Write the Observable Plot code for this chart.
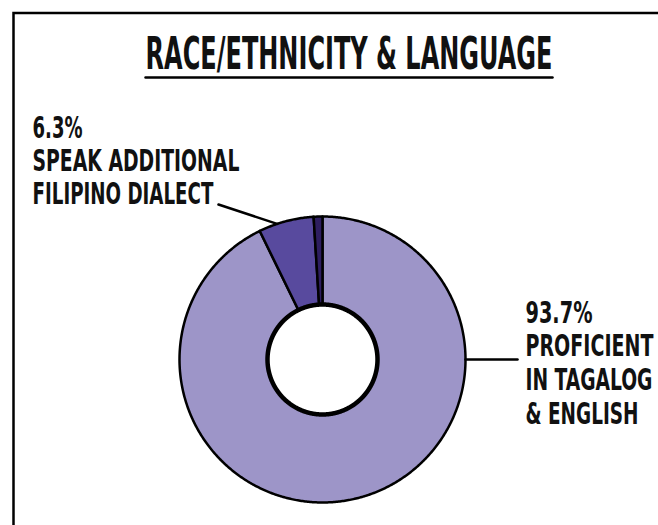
<!DOCTYPE html>
<html><head><meta charset="utf-8">
<script src="https://cdn.jsdelivr.net/npm/d3@7"></script>
<script src="https://cdn.jsdelivr.net/npm/@observablehq/plot@0.6"></script>
<style>body{margin:0;background:#fff;} #chart svg{display:block;}</style>
</head><body><div id="chart"></div>
<script>
// ---- data ----
const title = "RACE/ETHNICITY & LANGUAGE";
const categories = ["Proficient in Tagalog & English", "Speak additional Filipino dialect", "Other"];
const values = [93.7, 6.3, 1.0];
const colors = ["#9d95c8", "#584a9e", "#2e1e60"];
const leftLabel = ["6.3%", "SPEAK ADDITIONAL", "FILIPINO DIALECT"];
const rightLabel = ["93.7%", "PROFICIENT", "IN TAGALOG", "& ENGLISH"];

// ---- layout (pixels, relative to donut centre, y down) ----
const W = 658, H = 525;
const CX = 322, CY = 359, R = 143, R_IN = 55;
const FONT = "'DejaVu Sans Condensed', 'Liberation Sans Narrow', sans-serif";
const layout = {
  title: {x: 26.5, y: -291, size: 44, width: 407, ulY: -282, ulX0: -177, ulX1: 230},
  left: {x: -290, y0: -222, dy: 33, size: 31, widths: [50, 207, 181], lineFrom: [-104, -155], angle: 341.5},
  right: {x: 203, y0: -37, dy: 33.7, size: 31, widths: [67, 128, 127, 113], angle: 90, lineTo: 195}
};

const pie = d3.pie().sort(null).value(d => d.value)(categories.map((c, i) => ({category: c, value: values[i]})));
const pt = (a, r) => [Math.sin(a) * r, -Math.cos(a) * r];
function sector(a0, a1, r0, r1) {
  const n = Math.max(2, Math.ceil((a1 - a0) / (Math.PI / 360)));
  const outer = d3.range(n + 1).map(i => pt(a0 + (a1 - a0) * i / n, r1));
  const inner = d3.range(n + 1).map(i => pt(a1 - (a1 - a0) * i / n, r0));
  return [...outer, ...inner, outer[0]];
}
const slices = pie.map(p => ({
  type: "Feature",
  properties: {category: p.data.category},
  geometry: {type: "Polygon", coordinates: [sector(p.startAngle, p.endAngle, R_IN, R)]}
}));
const hole = {type: "Polygon", coordinates: [d3.range(721).map(i => pt(i * Math.PI / 360, R_IN))]};
const rad = d => d * Math.PI / 180;
const leaders = [
  {type: "LineString", coordinates: [layout.left.lineFrom, pt(rad(layout.left.angle), R)]},
  {type: "LineString", coordinates: [pt(rad(layout.right.angle), R), [layout.right.lineTo, pt(rad(layout.right.angle), R)[1]]]}
];
const underline = {type: "LineString", coordinates: [[layout.title.ulX0, layout.title.ulY], [layout.title.ulX1, layout.title.ulY]]};
const domain = {type: "Polygon", coordinates: [[[-CX, -CY], [W - CX, -CY], [W - CX, H - CY], [-CX, H - CY], [-CX, -CY]]]};

const leftRows = leftLabel.map((t, i) => ({t, x: layout.left.x, y: layout.left.y0 + i * layout.left.dy}));
const rightRows = rightLabel.map((t, i) => ({t, x: layout.right.x, y: layout.right.y0 + i * layout.right.dy}));

const chart = Plot.plot({
  width: W, height: H, margin: 0,
  projection: {type: "identity", domain, inset: 0},
  color: {domain: categories, range: colors},
  marks: [
    Plot.frame({insetLeft: 13, insetTop: 12.5, insetRight: -20, insetBottom: -20, stroke: "#000", strokeWidth: 2.5}),
    Plot.geo(slices, {fill: d => d.properties.category, stroke: "#000", strokeWidth: 2.5, strokeLinejoin: "round"}),
    Plot.geo([hole], {fill: "#fff", stroke: "#000", strokeWidth: 4.5}),
    Plot.geo(leaders, {stroke: "#000", strokeWidth: 2.5}),
    Plot.geo([underline], {stroke: "#000", strokeWidth: 2.5}),
    Plot.text([title], {x: () => layout.title.x, y: () => layout.title.y, text: d => d, textAnchor: "middle", lineAnchor: "bottom",
      fontSize: layout.title.size, fontWeight: "bold", fontFamily: FONT, fill: "#111", className: "t-title"}),
    Plot.text(leftRows, {x: "x", y: "y", text: "t", textAnchor: "start", lineAnchor: "bottom",
      fontSize: layout.left.size, fontWeight: "bold", fontFamily: FONT, fill: "#111", className: "t-left"}),
    Plot.text(rightRows, {x: "x", y: "y", text: "t", textAnchor: "start", lineAnchor: "bottom",
      fontSize: layout.right.size, fontWeight: "bold", fontFamily: FONT, fill: "#111", className: "t-right"})
  ]
});
document.getElementById("chart").append(chart);

// squeeze each text horizontally to the reference's condensed width
function fit(cls, widths) {
  chart.querySelectorAll(`.${cls} text`).forEach((el, i) => {
    const natural = el.getComputedTextLength();
    if (!natural) return;
    const sx = widths[i] / natural;
    const x = +(el.getAttribute("x") || 0), y = +(el.getAttribute("y") || 0);
    const t = el.getAttribute("transform") || "";
    el.setAttribute("transform", `${t} translate(${x},${y}) scale(${sx},1) translate(${-x},${-y})`.trim());
  });
}
fit("t-title", [layout.title.width]);
fit("t-left", layout.left.widths);
fit("t-right", layout.right.widths);
</script>
</body></html>
